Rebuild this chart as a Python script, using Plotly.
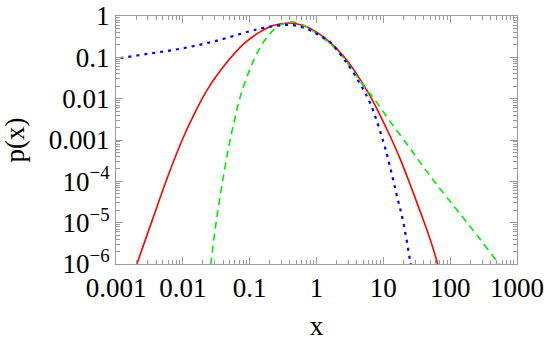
import plotly.graph_objects as go

# ---- data (x, p(x)) ----
red_x = [0.00178, 0.00206, 0.00347, 0.00575, 0.00977, 0.01585, 0.0229, 0.0316, 0.0501,
         0.0794, 0.126, 0.224, 0.398, 0.631, 1.0, 1.585, 2.512, 3.981, 6.31, 8.91,
         12.59, 17.78, 25.12, 35.48, 50.12, 65.0, 70.8]
red_y = [4.7e-7, 1e-6, 1.12e-5, 1.12e-4, 0.001, 0.00525, 0.0158, 0.0347, 0.0912,
         0.204, 0.363, 0.589, 0.676, 0.589, 0.407, 0.234, 0.109, 0.0398, 0.0118, 0.0040,
         0.00125, 0.000355, 8.5e-5, 1.9e-5, 3.98e-6, 1e-6, 5.5e-7]

green_x = [0.0251, 0.0263, 0.0302, 0.0339, 0.0398, 0.0468, 0.055, 0.0631, 0.0724, 0.0912,
           0.115, 0.145, 0.191, 0.257, 0.355, 0.457, 0.631, 1.0, 1.585, 2.239, 3.548,
           5.01, 7.08, 12.59, 25.12, 39.8, 63.1, 125.9, 251.2, 524.8, 631.0]
green_y = [5e-7, 1e-6, 6.3e-6, 2.24e-5, 1.12e-4, 5.0e-4, 0.00178, 0.00468, 0.0112, 0.0339,
           0.0851, 0.178, 0.339, 0.543, 0.684, 0.716, 0.603, 0.38, 0.216, 0.123, 0.0468,
           0.0209, 0.0105, 0.00282, 6.3e-4, 2.24e-4, 8.3e-5, 2.04e-5, 5.0e-6, 1.05e-6, 7.1e-7]

blue_x = [0.00089, 0.001, 0.00316, 0.01, 0.0316, 0.1, 0.158, 0.251, 0.398, 0.631, 1.0,
          1.585, 2.512, 3.981, 6.31, 10.0, 12.59, 15.85, 19.95, 25.12, 28.2]
blue_y = [0.091, 0.093, 0.123, 0.166, 0.251, 0.427, 0.513, 0.582, 0.61, 0.525, 0.372,
          0.234, 0.0955, 0.0316, 0.00794, 0.000912, 0.000224, 4.68e-5, 1.0e-5, 1.2e-6, 4e-7]

x_ticks = [0.001, 0.01, 0.1, 1, 10, 100, 1000]
x_labels = ["0.001", "0.01", "0.1", "1", "10", "100", "1000"]
y_ticks = [1e-6, 1e-5, 1e-4, 1e-3, 1e-2, 1e-1, 1]
y_labels = ["10<sup>\u22126</sup>", "10<sup>\u22125</sup>", "10<sup>\u22124</sup>",
            "0.001", "0.01", "0.1", "1"]

FONT = "Liberation Serif"
FRAME = "#9a9a9a"
FS = 27

fig = go.Figure()
fig.add_trace(go.Scatter(x=red_x, y=red_y, mode="lines", line_shape="spline",
                         line=dict(color="#ff0000", width=1.6), showlegend=False))
fig.add_trace(go.Scatter(x=green_x, y=green_y, mode="lines", line_shape="spline",
                         line=dict(color="#00ee00", width=1.6, dash="7px,5px"), showlegend=False))
fig.add_trace(go.Scatter(x=blue_x, y=blue_y, mode="lines", line_shape="spline",
                         line=dict(color="#0000ff", width=2.2, dash="3px,5px"), showlegend=False))

def minor_vals(lo, hi):
    vals = []
    for e in range(lo, hi):
        for m in range(2, 10):
            vals.append(m * 10.0 ** e)
    return vals

axis_common = dict(
    type="log", showgrid=False, zeroline=False, automargin=False,
    showline=True, linecolor=FRAME, linewidth=1,
    mirror="allticks", ticks="inside", ticklen=7, tickwidth=1, tickcolor=FRAME,
    tickfont=dict(family=FONT, size=FS, color="black"),
)

fig.update_layout(
    width=550, height=341,
    margin=dict(l=116, r=33, t=16, b=77),
    paper_bgcolor="white", plot_bgcolor="white",
    xaxis=dict(axis_common, range=[-3, 3], tickmode="array", tickvals=x_ticks, ticktext=x_labels,
               minor=dict(tickmode="array", tickvals=minor_vals(-3, 3), ticks="inside",
                          ticklen=4, tickcolor=FRAME, showgrid=False),
               title=dict(text="x", font=dict(family=FONT, size=FS, color="black"), standoff=13)),
    yaxis=dict(axis_common, range=[-6, 0], tickmode="array", tickvals=y_ticks, ticktext=y_labels,
               minor=dict(tickmode="array", tickvals=minor_vals(-6, 0), ticks="inside",
                          ticklen=4, tickcolor=FRAME, showgrid=False),
               title=dict(text="p(x)", font=dict(family=FONT, size=FS, color="black"), standoff=16)),
)

fig.write_html("out.html", config={"displayModeBar": False},
               post_script="document.body.style.margin='0';document.body.style.overflow='hidden';")
